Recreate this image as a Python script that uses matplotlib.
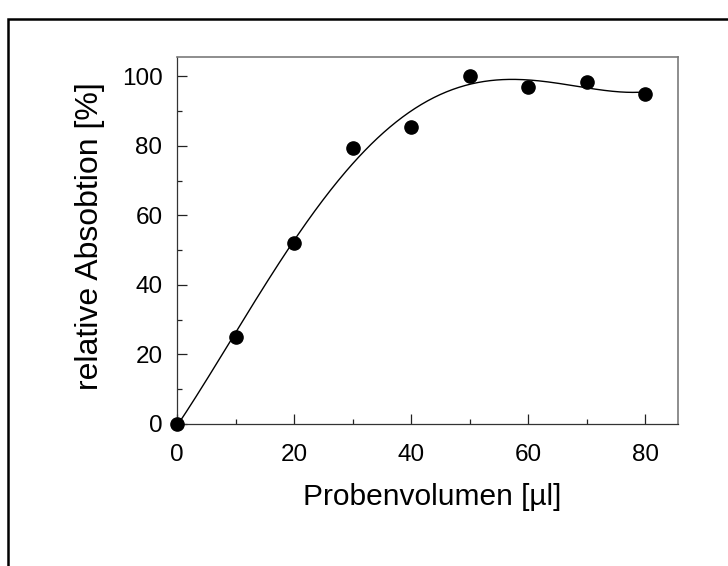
import numpy as np
import matplotlib
matplotlib.use("Agg")
import matplotlib.pyplot as plt
from matplotlib.patches import Rectangle

# ---------- data ----------
volumen = [0, 10, 20, 30, 40, 50, 60, 70, 80]          # µl
absorption = [0, 25, 52, 79.5, 85.5, 100, 97, 98.5, 95]  # %

plt.rcParams['font.family'] = ['Liberation Sans', 'DejaVu Sans']

fig = plt.figure(figsize=(7.28, 5.66), dpi=100)
ax = fig.add_axes([177 / 728, 1 - 424 / 566, (678 - 177) / 728, (424 - 57) / 566])

# smooth fit through the points
coef = np.polyfit(volumen, absorption, 4)
xs = np.linspace(0, 80, 300)
ax.plot(xs, np.polyval(coef, xs), color='black', lw=1.0, zorder=2)
ax.plot(volumen, absorption, 'o', color='black', ms=9.5, zorder=3, clip_on=False)

ax.set_xlim(0, 85.6)
ax.set_ylim(0, 105.6)
ax.set_xticks([0, 20, 40, 60, 80])
ax.set_xticks([10, 30, 50, 70], minor=True)
ax.set_yticks([0, 20, 40, 60, 80, 100])
ax.set_yticks([10, 30, 50, 70, 90], minor=True)

ax.tick_params(which='both', direction='in', width=0.9, color='#222222')
ax.tick_params(which='major', length=7.2, labelsize=17.5)
ax.tick_params(axis='y', which='major', pad=10.5)
ax.tick_params(axis='x', which='major', pad=14.5)
ax.tick_params(which='minor', length=3.6)

for side in ['left', 'bottom']:
    ax.spines[side].set_color('#333333')
    ax.spines[side].set_linewidth(0.9)
for side in ['top', 'right']:
    ax.spines[side].set_color('#7a7a7a')
    ax.spines[side].set_linewidth(1.2)

ax.set_xlabel('Probenvolumen [µl]', fontsize=21.5, va='center')
ax.xaxis.set_label_coords(0.51, -0.20)
ax.set_ylabel('relative Absobtion [%]', fontsize=23, va='center')
ax.yaxis.set_label_coords(-0.174, 0.512)

# outer frame (cut off at right and bottom)
frame = Rectangle((8 / 728, -0.1), 1.2, 1 - 19 / 566 + 0.1, transform=fig.transFigure,
                  fill=False, edgecolor='black', lw=1.8, clip_on=False)
fig.patches.append(frame)

fig.savefig('out.png', dpi=100)
